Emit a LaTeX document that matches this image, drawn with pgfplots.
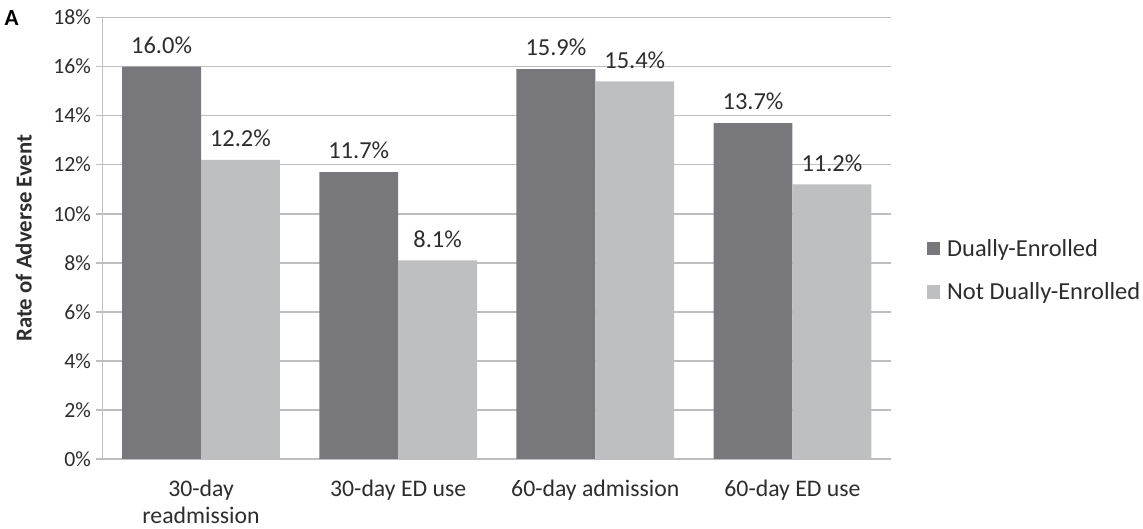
\documentclass[border=0pt]{standalone}
\usepackage{fontspec}
\setmainfont{Carlito}
\usepackage{pgfplots}
\pgfplotsset{compat=1.18}
\definecolor{dark}{RGB}{120,120,124}
\definecolor{light}{RGB}{190,191,193}
\definecolor{gridc}{RGB}{190,190,190}
\definecolor{txt}{RGB}{45,45,45}

\begin{document}
\begin{tikzpicture}
	\begin{axis}[at={(0,0)}, anchor=south west,
							scale only axis,
							width=581pt,
							height=325pt,
							ybar=0pt, bar width=0.4,
							xmin=-0.5, xmax=3.5,
							ymin=0, ymax=18,
							ytick={0,2,...,18},
							yticklabel={\pgfmathprintnumber{\tick}\%},
							xtick={0,1,2,3},
							xticklabels={{30-day\\readmission},{30-day ED use},{60-day admission},{60-day ED use}},
							xticklabel style={align=center, text=txt, yshift=-7pt, font=\fontsize{17.5}{20}\selectfont},
							yticklabel style={font=\fontsize{16}{19}\selectfont, text=txt},
							major x tick style={draw=none},
							extra x ticks={-0.5,0.5,1.5,2.5,3.5},
							extra x tick labels={},
							extra x tick style={major tick length=6pt, tick style={draw=gridc, line width=1.2pt}, grid=none},
							axis x line=bottom, axis y line=left,
							axis line style={draw=gridc, line width=1.2pt, -},
							tick align=outside,
							major tick length=5pt,
							ytick style={draw=gridc, line width=1.2pt},
							ymajorgrids, grid style={draw=gridc, line width=1.2pt},
							/pgf/number format/assume math mode=true,
							ylabel={\textbf{Rate of Adverse Event}},
							ylabel style={font=\fontsize{16.8}{19}\selectfont, text=txt, at={(axis description cs:-0.100,0.5)}, anchor=center},
							nodes near coords={\pgfmathprintnumber[fixed, fixed zerofill, precision=1]{\pgfplotspointmeta}\%},
							nodes near coords style={font=\fontsize{18}{20}\selectfont, text=txt, yshift=6pt},
							legend style={at={(rel axis cs:1.045,0.427)}, anchor=west, draw=none, font=\fontsize{18}{20}\selectfont, text=txt, row sep=14pt, legend cell align=left, inner xsep=0pt},
							legend image code/.code={\draw[#1, draw=none] (0pt,-5pt) rectangle (10pt,5pt); \path (13pt,0pt);},
							]
		\addplot[fill=dark, draw=none] coordinates {(0,16.0) (1,11.7) (2,15.9) (3,13.7)};
		\addlegendentry{Dually-Enrolled}
		\addplot[fill=light, draw=none] coordinates {(0,12.2) (1,8.1) (2,15.4) (3,11.2)};
		\addlegendentry{Not Dually-Enrolled}
	\end{axis}
	\node[font=\fontsize{17}{19}\selectfont\bfseries, text=black] at (-67pt,325pt) {A};
	\path (0,338pt);
\end{tikzpicture}
\end{document}
